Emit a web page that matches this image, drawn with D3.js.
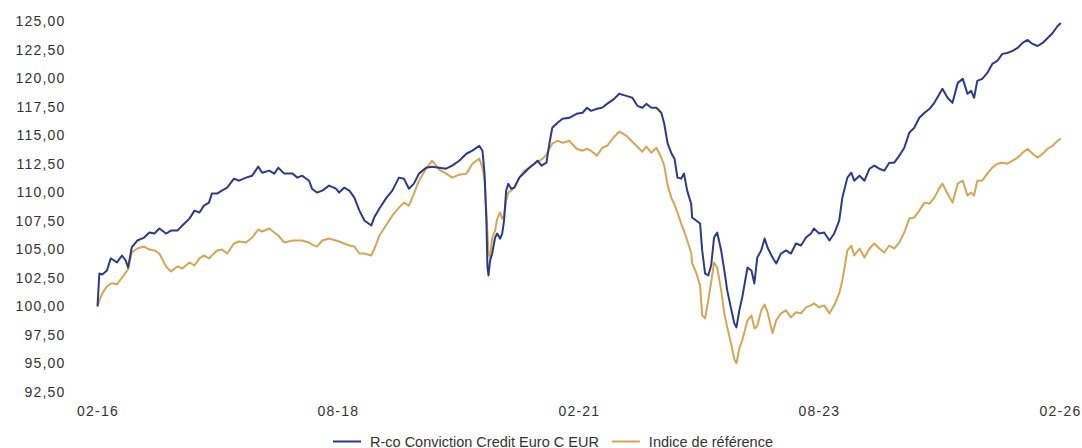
<!DOCTYPE html>
<html lang="fr">
<head>
<meta charset="utf-8"/>
<title>R-co Conviction Credit Euro C EUR</title>
<script src="https://d3js.org/d3.v7.min.js"></script>
<style>
  body { margin: 0; background: #fff; }
  .axis text { font-family: "Liberation Sans", Arial, sans-serif; font-size: 14px; fill: #333; letter-spacing: 1.2px; }
  .axis .domain { display: none; }
  .legend text { font-family: "Liberation Sans", Arial, sans-serif; font-size: 14.5px; fill: #333; }
</style>
</head>
<body>
<div id="chart"></div>
<script>
// dates, one row per reading
var dates = [
  "2016-02-01","2016-02-08","2016-02-19","2016-03-08","2016-03-22","2016-04-04","2016-04-15","2016-05-04","2016-05-18","2016-05-27",
  "2016-06-10","2016-07-01","2016-07-27","2016-08-16","2016-09-04","2016-09-23","2016-10-18","2016-11-06","2016-11-30","2016-12-19",
  "2017-01-15","2017-02-03","2017-02-22","2017-03-11","2017-03-30","2017-04-10","2017-04-30","2017-05-18","2017-06-07","2017-07-03",
  "2017-07-22","2017-08-18","2017-09-10","2017-10-03","2017-10-18","2017-11-14","2017-12-03","2017-12-18","2018-01-10","2018-02-10",
  "2018-03-01","2018-03-18","2018-04-14","2018-04-25","2018-05-14","2018-06-03","2018-06-29","2018-07-25","2018-08-06","2018-08-25",
  "2018-09-14","2018-10-03","2018-10-22","2018-11-10","2018-12-06","2018-12-17","2019-01-06","2019-02-02","2019-02-24","2019-03-21",
  "2019-04-09","2019-04-28","2019-05-17","2019-06-05","2019-07-02","2019-07-25","2019-08-21","2019-09-16","2019-10-09","2019-11-05",
  "2019-12-02","2019-12-25","2020-01-20","2020-02-01","2020-02-09","2020-02-16","2020-02-20","2020-02-24","2020-03-01","2020-03-09",
  "2020-03-20","2020-03-28","2020-04-08","2020-04-16","2020-04-23","2020-05-01","2020-05-09","2020-05-20","2020-06-01","2020-06-20",
  "2020-07-09","2020-07-28","2020-08-16","2020-08-28","2020-09-12","2020-10-01","2020-10-12","2020-10-23","2020-11-12","2020-12-01",
  "2020-12-27","2021-01-23","2021-02-15","2021-03-04","2021-03-19","2021-04-11","2021-04-30","2021-05-19","2021-06-15","2021-07-04",
  "2021-07-31","2021-08-23","2021-09-11","2021-09-30","2021-10-15","2021-11-03","2021-11-22","2021-12-11","2021-12-22","2022-01-04",
  "2022-01-19","2022-01-30","2022-02-10","2022-02-24","2022-03-07","2022-03-19","2022-04-03","2022-04-07","2022-04-22","2022-05-07",
  "2022-05-15","2022-05-26","2022-06-07","2022-06-18","2022-06-29","2022-07-11","2022-07-26","2022-08-07","2022-08-18","2022-09-03",
  "2022-09-14","2022-09-22","2022-10-03","2022-10-14","2022-11-03","2022-11-18","2022-11-29","2022-12-10","2022-12-25","2023-01-07",
  "2023-01-18","2023-02-06","2023-02-20","2023-03-10","2023-03-29","2023-04-17","2023-05-06","2023-05-25","2023-06-13","2023-07-02",
  "2023-07-13","2023-08-02","2023-08-21","2023-09-10","2023-09-28","2023-10-17","2023-10-29","2023-11-17","2023-12-02","2023-12-13",
  "2024-01-02","2024-01-21","2024-02-09","2024-02-27","2024-03-17","2024-04-05","2024-04-24","2024-05-13","2024-06-01","2024-06-20",
  "2024-07-09","2024-07-28","2024-08-16","2024-09-05","2024-09-24","2024-10-12","2024-11-01","2024-11-12","2024-12-01","2024-12-20",
  "2025-01-09","2025-01-28","2025-02-15","2025-03-01","2025-03-12","2025-03-24","2025-04-12","2025-05-01","2025-05-20","2025-06-08",
  "2025-06-27","2025-07-16","2025-08-05","2025-08-24","2025-09-12","2025-10-01","2025-10-20","2025-11-08","2025-11-27","2025-12-16",
  "2026-01-04","2026-01-23","2026-02-04"
];

// R-co Conviction Credit Euro C EUR
var fund = [
  100.00,102.88,102.80,103.15,104.20,104.02,103.85,104.46,104.02,103.41,
  105.16,105.77,106.03,106.47,106.38,106.82,106.38,106.64,106.64,107.08,
  107.69,108.39,108.22,108.83,109.09,109.88,109.88,110.14,110.40,111.19,
  111.01,111.28,111.45,112.24,111.71,111.89,111.63,112.15,111.63,111.63,
  111.28,111.45,111.01,110.31,109.97,110.14,110.58,110.31,109.97,110.40,
  110.14,109.53,108.39,107.52,107.08,107.78,108.57,109.53,110.14,111.28,
  111.19,110.31,110.75,111.63,112.15,112.24,112.15,112.06,112.33,112.76,
  113.37,113.64,114.07,113.64,111.63,107.52,103.41,102.71,104.02,104.63,
  106.03,106.38,105.94,106.38,107.52,110.14,110.75,110.31,110.40,111.28,
  111.71,112.15,112.50,112.76,112.33,112.59,114.25,115.65,116.08,116.43,
  116.52,116.87,116.96,117.40,117.13,117.31,117.40,117.74,118.18,118.62,
  118.44,118.27,117.57,117.40,117.74,117.40,117.40,116.96,116.00,114.25,
  113.37,112.94,111.28,111.19,111.63,110.14,109.00,107.78,107.52,107.26,
  104.90,102.88,102.71,103.58,106.03,106.47,104.90,103.15,101.40,99.65,
  98.51,98.16,99.65,100.79,103.41,103.15,102.01,104.28,104.90,105.94,
  105.16,104.28,103.76,104.63,104.90,104.63,105.51,105.33,106.03,106.38,
  106.82,106.38,106.47,105.77,106.38,107.52,109.53,111.28,111.71,111.01,
  111.45,111.01,112.06,112.33,112.06,111.89,112.59,112.59,113.20,113.90,
  115.21,115.65,116.52,116.96,117.31,117.83,118.62,119.06,118.27,117.83,
  119.58,119.93,118.62,118.88,118.27,119.76,119.93,120.45,121.24,121.50,
  122.12,122.20,122.38,122.64,123.08,123.34,122.99,122.81,123.08,123.51,
  123.95,124.56,124.82
];

// Indice de référence
var benchmark = [
  100.00,100.52,101.14,101.75,102.01,102.01,101.92,102.53,102.97,103.23,
  104.72,105.07,105.24,104.98,104.90,104.63,103.50,103.06,103.50,103.32,
  103.85,103.58,104.20,104.46,104.20,104.46,104.90,104.98,104.63,105.51,
  105.68,105.59,106.03,106.73,106.56,106.82,106.47,106.21,105.59,105.77,
  105.77,105.77,105.59,105.42,105.24,105.77,105.94,105.77,105.68,105.51,
  105.33,105.24,104.63,104.63,104.46,104.98,106.21,107.17,107.95,108.65,
  109.09,108.83,109.88,111.01,112.06,112.76,111.98,111.63,111.28,111.54,
  111.63,112.50,112.94,112.15,111.01,108.13,106.38,104.63,104.28,106.03,
  106.64,107.69,108.22,107.69,107.95,109.27,109.97,110.14,110.40,111.28,
  111.89,112.15,112.50,112.67,112.85,113.29,113.81,114.25,114.51,114.34,
  114.51,113.81,113.64,113.81,113.64,113.20,113.90,114.07,114.86,115.30,
  114.95,114.42,113.99,113.55,113.99,113.46,113.90,113.02,112.33,110.58,
  109.44,108.92,108.22,107.26,106.64,105.77,104.72,103.76,102.97,101.84,
  99.21,98.95,100.52,102.10,103.85,103.41,101.40,99.39,98.16,96.59,
  95.37,95.02,96.33,97.03,98.78,99.21,98.08,98.25,99.65,100.17,
  99.48,97.64,98.78,99.39,99.65,99.04,99.48,99.39,99.91,100.09,
  100.26,99.91,100.09,99.39,100.09,101.14,102.27,104.90,105.33,104.46,
  105.07,104.28,105.07,105.51,105.07,104.72,105.33,105.07,105.59,106.47,
  107.69,107.78,108.39,109.09,109.00,109.53,110.40,110.75,109.88,109.09,
  110.75,111.01,109.70,109.97,109.70,111.01,111.01,111.63,112.15,112.50,
  112.59,112.50,112.76,113.02,113.46,113.81,113.37,113.02,113.37,113.81,
  114.07,114.51,114.69
];

var seriesNames = ["R-co Conviction Credit Euro C EUR", "Indice de référence"];
var yTicks = [92.5, 95, 97.5, 100, 102.5, 105, 107.5, 110, 112.5, 115, 117.5, 120, 122.5, 125];
var xTicks = ["2016-02-01", "2018-08-01", "2021-02-01", "2023-08-01", "2026-02-01"];

var width = 1082,
    height = 448,
    m = {top: 21, right: 22, bottom: 56, left: 97.5};

var parse = d3.timeParse("%Y-%m-%d");
var colors = ["#2d3b86", "#d5a655"];

var svg = d3.select("#chart").append("svg")
    .attr("width", width)
    .attr("height", height);

var x = d3.scaleTime()
    .domain([parse("2016-02-01"), parse("2026-02-01")])
    .range([m.left, width - m.right]);

var y = d3.scaleLinear()
    .domain([92.5, 125])
    .range([height - m.bottom, m.top]);

var comma = function(v) { return d3.format(".2f")(v).replace(".", ","); };

svg.append("g")
    .attr("class", "axis")
    .attr("transform", "translate(" + m.left + ",0)")
    .call(d3.axisLeft(y).tickValues(yTicks).tickFormat(comma).tickSize(0).tickPadding(32));

svg.append("g")
    .attr("class", "axis")
    .attr("transform", "translate(0," + (height - m.bottom) + ")")
    .call(d3.axisBottom(x).tickValues(xTicks.map(parse)).tickFormat(d3.timeFormat("%m-%y")).tickSize(0).tickPadding(14));

var line = d3.line()
    .x(function(d) { return x(d[0]); })
    .y(function(d) { return y(d[1]); });

// draw benchmark first so the fund sits on top
[benchmark, fund].forEach(function(vals, k) {
  var idx = k === 0 ? 1 : 0;
  svg.append("path")
      .datum(dates.map(function(d, i) { return [parse(d), vals[i]]; }))
      .attr("fill", "none")
      .attr("stroke", colors[idx])
      .attr("stroke-width", 2)
      .attr("stroke-linejoin", "round")
      .attr("d", line);
});

// legend
var legend = svg.append("g").attr("class", "legend");
var lx = 333, ly = 441.5;
seriesNames.forEach(function(name, i) {
  legend.append("line")
      .attr("x1", lx).attr("x2", lx + 28)
      .attr("y1", ly).attr("y2", ly)
      .attr("stroke", colors[i])
      .attr("stroke-width", 2);
  var t = legend.append("text")
      .attr("x", lx + 37)
      .attr("y", ly + 5)
      .text(name);
  lx = lx + 37 + t.node().getComputedTextLength() + 13;
});
</script>
</body>
</html>
